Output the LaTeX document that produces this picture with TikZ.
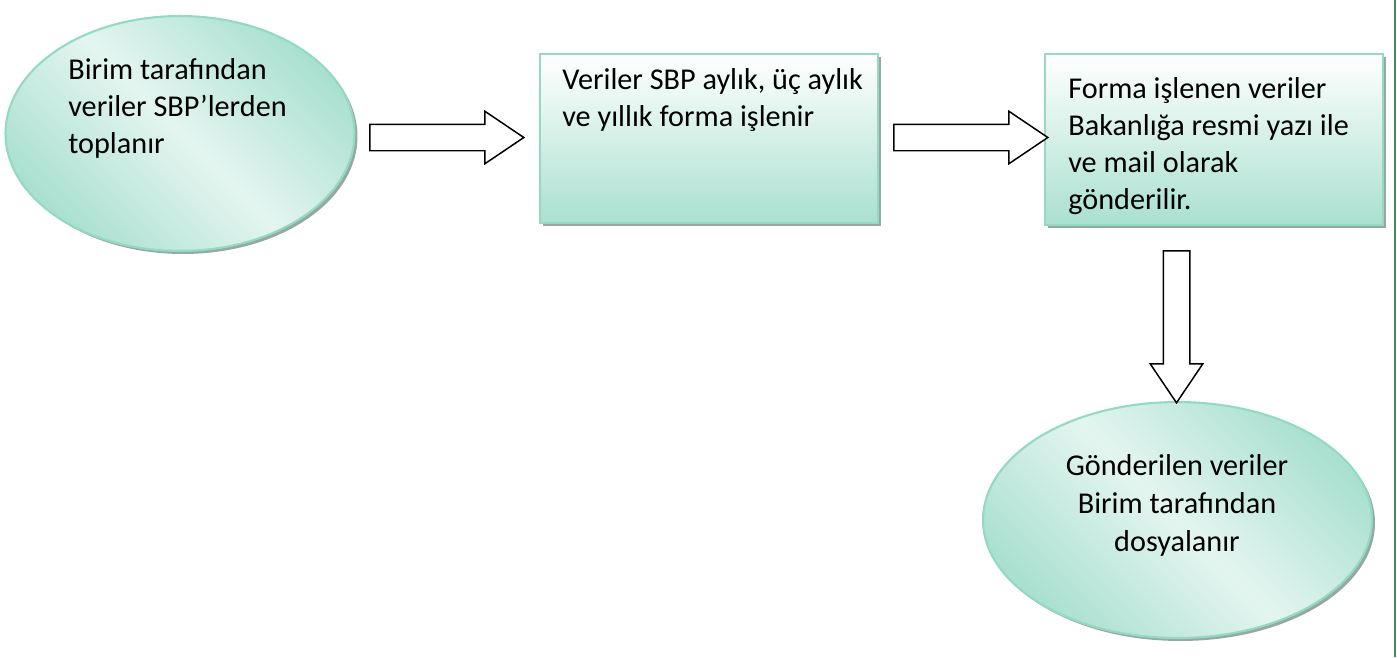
\documentclass[tikz,border=0pt]{standalone}
\usepackage{fontspec}
\setmainfont{Carlito}
\usepackage{xcolor}
\definecolor{TealEdge}{HTML}{93D9C3}
\definecolor{TealDeep}{HTML}{A9E0CF}
\definecolor{TealPale}{HTML}{E4F5F0}
\definecolor{ShadowGrey}{HTML}{97A8A2}
\definecolor{PageGreen}{HTML}{3D8F55}
\usetikzlibrary{shapes.geometric, shapes.arrows, shadows, positioning, calc}
\tikzset{
  % Shape styles
  ovalbox/.style={ellipse, draw=TealEdge, line width=1.2pt, top color=TealDeep, bottom color=TealDeep, middle color=TealPale, shading angle=-45, drop shadow={shadow xshift=0.06cm, shadow yshift=-0.06cm, fill=ShadowGrey, opacity=1}},
  stagebox/.style={rectangle, draw=TealEdge, line width=1.2pt, top color=white, bottom color=TealDeep, minimum width=6.76cm, drop shadow={shadow xshift=0.06cm, shadow yshift=-0.06cm, fill=ShadowGrey, opacity=1}},
  % Text styles
  lbl/.style={inner sep=0pt, font=\fontsize{17.2}{21}\selectfont, align=left},
  clbl/.style={inner sep=0pt, font=\fontsize{17.2}{21.6}\selectfont, align=center},
  % Arrow styles
  blockarrow/.style={single arrow, draw=black, line width=0.85pt, fill=white, inner xsep=0pt, inner ysep=0.25cm, minimum width=1.02cm, single arrow head extend=0.26cm, single arrow tip angle=68, minimum height=3.08cm},
  downarrow/.style={blockarrow, shape border rotate=270, inner xsep=0.25cm, inner ysep=0pt, minimum height=3.04cm},
  pagerule/.style={draw=PageGreen, line width=1.2pt}
}
\begin{document}
\begin{tikzpicture}[x=0.02cm, y=-0.02cm]
  \useasboundingbox (0,0) rectangle (1397,657);

  % Start
  \node[ovalbox, minimum width=6.98cm, minimum height=4.7cm] (collect) at (180,133.5) {};
  \node[lbl, anchor=north west] (collecttxt) at (68,58) {Birim tarafından\\veriler SBP’lerden\\toplanır};

  % Monthly / quarterly / yearly form
  \node[stagebox, minimum height=3.38cm] (form) at (709,138.5) {};
  \node[lbl, anchor=north west] (formtxt) at (562,68) {Veriler SBP aylık, üç aylık\\ve yıllık forma işlenir};

  % Sent to the ministry
  \node[stagebox, minimum height=3.42cm] (send) at (1214,139.5) {};
  \node[lbl, anchor=north west] (sendtxt) at (1068,77) {Forma işlenen veriler\\Bakanlığa resmi yazı ile\\ve mail olarak\\gönderilir.};

  % Filed
  \node[ovalbox, minimum width=7.78cm, minimum height=4.72cm] (file) at (1177.5,520) {};
  \node[clbl, anchor=north] (filetxt) at (1177,454) {Gönderilen veriler\\Birim tarafından\\dosyalanır};

  % Block arrows
  \node[blockarrow] (a1) at (437,137.5) {};
  \node[blockarrow] (a2) at (961,137.5) {};
  \node[downarrow] (a3) at (1176.5,317) {};

  % Page edge
  \draw[pagerule] (1395,0) -- (1395,657);
\end{tikzpicture}
\end{document}
